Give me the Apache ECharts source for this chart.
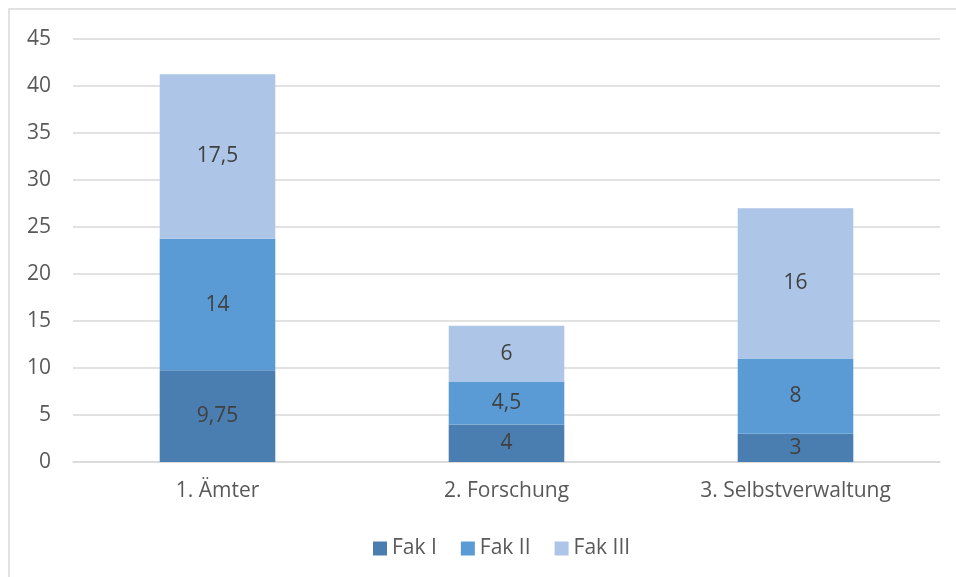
<!DOCTYPE html>
<html>
<head>
<meta charset="utf-8">
<script src="https://cdn.jsdelivr.net/npm/echarts@6/dist/echarts.min.js"></script>
<style>
  html, body { margin: 0; padding: 0; background: #fff; }
  #chart { width: 956px; height: 577px; }
</style>
</head>
<body>
<div id="chart"></div>
<script>
const categories = ['1. Ämter', '2. Forschung', '3. Selbstverwaltung']
const seriesNames = ['Fak I', 'Fak II', 'Fak III']
const fakI = [9.75, 4, 3]
const fakII = [14, 4.5, 8]
const fakIII = [17.5, 6, 16]

const colors = ['#4a7eb0', '#5b9bd5', '#adc5e6']
const font = '"Open Sans", Lato, sans-serif'

const chart = echarts.init(document.getElementById('chart'))

const makeSeries = (name, data, color) => ({
  name: name,
  type: 'bar',
  stack: 'total',
  data: data,
  barWidth: '40%',
  itemStyle: { color: color },
  label: {
    show: true,
    position: 'inside',
    color: '#404040',
    fontSize: 21,
    fontFamily: font,
    formatter: (p) => String(p.value).replace('.', ',')
  }
})

const option = {
  backgroundColor: '#fff',
  animation: false,
  graphic: [
    {
      type: 'rect',
      shape: { x: 9, y: 9, width: 1000, height: 600 },
      style: { fill: 'none', stroke: '#d9d9d9', lineWidth: 1.5 },
      silent: true
    }
  ],
  grid: { left: 73, right: 16, top: 39, bottom: 115 },
  legend: {
    bottom: 13,
    left: 368,
    itemWidth: 14,
    itemHeight: 14,
    itemGap: 24,
    icon: 'rect',
    textStyle: { color: '#595959', fontSize: 21, fontFamily: font }
  },
  xAxis: {
    type: 'category',
    data: categories,
    axisLine: { lineStyle: { color: '#d9d9d9', width: 1.5 } },
    axisTick: { show: false },
    axisLabel: { color: '#595959', fontSize: 21, fontFamily: font, margin: 19 }
  },
  yAxis: {
    type: 'value',
    min: 0,
    max: 45,
    interval: 5,
    axisLine: { show: false },
    axisTick: { show: false },
    axisLabel: { color: '#595959', fontSize: 21, fontFamily: font, margin: 22 },
    splitLine: { lineStyle: { color: '#d9d9d9', width: 1.5 } }
  },
  series: [
    makeSeries(seriesNames[0], fakI, colors[0]),
    makeSeries(seriesNames[1], fakII, colors[1]),
    makeSeries(seriesNames[2], fakIII, colors[2])
  ]
}

chart.setOption(option)
</script>
</body>
</html>
